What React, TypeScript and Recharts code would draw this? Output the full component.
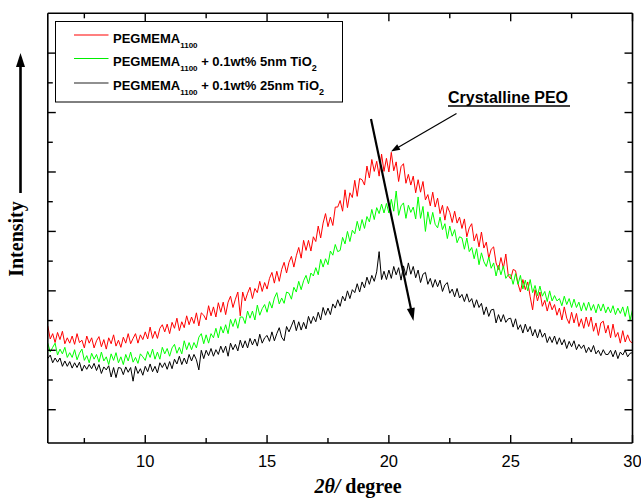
import { LineChart, Line, XAxis, YAxis } from "recharts";

// XRD scan, 2θ from 6 to 30 deg in 0.1 steps; intensity in arbitrary units
const red = [
  241, 219, 228, 213, 230, 218, 232, 211, 221, 212,
  224, 210, 228, 213, 217, 204, 224, 212, 221, 204,
  216, 223, 206, 218, 202, 221, 211, 226, 207, 217,
  205, 222, 212, 228, 211, 220, 228, 212, 226, 218,
  231, 219, 239, 220, 232, 220, 237, 243, 231, 244,
  228, 247, 237, 254, 233, 248, 238, 258, 243, 256,
  245, 263, 241, 263, 259, 251, 275, 258, 273, 256,
  280, 264, 281, 260, 281, 291, 272, 286, 298, 258,
  298, 283, 296, 306, 287, 304, 297, 316, 299, 314,
  303, 321, 331, 313, 333, 316, 336, 348, 330, 348,
  358, 340, 359, 373, 355, 385, 368, 385, 367, 391,
  383, 409, 389, 414, 430, 408, 424, 410, 441, 441,
  452, 434, 470, 440, 465, 457, 486, 459, 489, 487,
  478, 510, 490, 521, 501, 518, 493, 530, 501, 523,
  500, 533, 502, 517, 484, 509, 514, 481, 496, 478,
  493, 465, 487, 466, 484, 453, 462, 443, 466, 441,
  456, 430, 444, 419, 442, 432, 415, 434, 414, 424,
  405, 421, 391, 406, 413, 384, 396, 374, 399, 372,
  382, 355, 370, 374, 347, 336, 356, 338, 362, 326,
  320, 336, 334, 312, 298, 319, 302, 315, 290, 268,
  302, 283, 298, 274, 284, 266, 282, 268, 277, 259,
  271, 251, 273, 254, 245, 264, 246, 262, 240, 253,
  237, 256, 240, 256, 232, 246, 225, 246, 249, 229,
  242, 221, 244, 222, 230, 212, 233, 214, 226, 215,
  212,
];

const green = [
  212, 197, 205, 212, 192, 202, 194, 205, 188, 196,
  188, 201, 184, 195, 202, 183, 191, 179, 195, 185,
  193, 180, 197, 182, 189, 176, 194, 183, 196, 179,
  189, 176, 193, 182, 197, 180, 188, 178, 194, 189,
  183, 198, 188, 202, 185, 197, 185, 205, 194, 203,
  190, 204, 210, 195, 205, 194, 216, 201, 213, 201,
  213, 204, 222, 228, 211, 226, 212, 228, 221, 237,
  221, 240, 229, 243, 228, 252, 240, 253, 237, 256,
  256, 245, 266, 254, 266, 251, 276, 259, 270, 277,
  264, 282, 271, 288, 297, 278, 288, 279, 298, 296,
  286, 306, 298, 316, 302, 317, 326, 312, 330, 325,
  339, 327, 353, 340, 354, 344, 367, 360, 378, 366,
  368, 390, 379, 400, 383, 402, 396, 417, 401, 420,
  405, 425, 416, 437, 420, 440, 430, 446, 431, 447,
  431, 454, 434, 468, 427, 443, 448, 422, 444, 432,
  441, 421, 458, 422, 442, 400, 433, 412, 432, 412,
  406, 424, 403, 413, 388, 409, 392, 403, 381, 391,
  389, 370, 389, 366, 373, 354, 371, 344, 364, 349,
  341, 357, 338, 347, 325, 343, 327, 342, 321, 327,
  327, 311, 329, 311, 326, 303, 318, 300, 319, 297,
  309, 292, 308, 291, 299, 282, 300, 283, 292, 283,
  287, 275, 291, 277, 287, 272, 286, 272, 281, 266,
  280, 267, 281, 267, 277, 263, 278, 266, 278, 263,
  273, 263, 275, 260, 271, 262, 273, 257, 274, 251,
  268,
];

const black = [
  186, 192, 179, 187, 180, 187, 173, 182, 173, 181,
  170, 179, 171, 180, 165, 175, 168, 176, 169, 178,
  166, 176, 161, 172, 167, 174, 155, 171, 154, 171,
  170, 159, 172, 163, 171, 148, 173, 161, 169, 158,
  173, 164, 177, 164, 173, 162, 179, 171, 179, 168,
  181, 169, 185, 177, 190, 176, 187, 177, 193, 182,
  193, 184, 167, 200, 186, 200, 191, 203, 190, 201,
  193, 207, 196, 207, 190, 212, 201, 210, 199, 217,
  204, 216, 204, 220, 209, 219, 207, 227, 212, 221,
  225, 215, 231, 216, 228, 238, 222, 216, 240, 231,
  241, 251, 233, 248, 234, 247, 236, 257, 245, 257,
  248, 264, 251, 272, 259, 271, 260, 278, 271, 285,
  274, 291, 283, 300, 287, 302, 297, 312, 298, 315,
  305, 323, 311, 326, 316, 332, 366, 319, 333, 319,
  335, 321, 341, 327, 339, 318, 342, 326, 347, 328,
  341, 322, 335, 314, 328, 331, 311, 321, 306, 319,
  307, 318, 299, 310, 314, 296, 303, 290, 304, 288,
  294, 282, 295, 281, 287, 272, 285, 272, 279, 260,
  273, 257, 268, 269, 246, 260, 248, 260, 247, 253,
  254, 239, 253, 235, 243, 229, 244, 231, 240, 224,
  235, 221, 235, 222, 229, 213, 223, 213, 224, 210,
  221, 209, 218, 203, 215, 206, 216, 201, 210, 203,
  209, 196, 205, 197, 208, 194, 200, 191, 201, 193,
  193, 200, 189, 200, 186, 197, 192, 200, 189, 195,
  196,
];

const twoTheta = red.map((_, i) => Math.round((6 + i * 0.1) * 10) / 10);

const xTicks = [7.5, 10, 12.5, 15, 17.5, 20, 22.5, 25, 27.5, 30];
const xMajor = [10, 15, 20, 25, 30];
const yTicks = [100, 150, 200, 250, 300, 350, 400, 450, 500, 550, 600, 650, 700];
const yMajor = [100, 200, 300, 400, 500, 600, 700];

const data = twoTheta.map((x, i) => ({ x, red: red[i], green: green[i], black: black[i] }));

const SANS = "'Liberation Sans', Arial, Helvetica, sans-serif";
const SERIF = "'Liberation Serif', 'Times New Roman', serif";

const MAJ = 8;
const MIN = 5;

function BottomTick({ x, y, payload }: any) {
  const major = xMajor.includes(payload.value);
  return (
    <g>
      <line x1={x} x2={x} y1={y} y2={y - (major ? MAJ : MIN)} stroke="#000" strokeWidth={1.4} />
      {major && (
        <text x={x} y={y + 24} textAnchor="middle" fontSize={16.5} fontFamily={SANS} fill="#000">
          {payload.value}
        </text>
      )}
    </g>
  );
}

function TopTick({ x, y, payload }: any) {
  const major = xMajor.includes(payload.value);
  return <line x1={x} x2={x} y1={y} y2={y + (major ? MAJ : MIN)} stroke="#000" strokeWidth={1.4} />;
}

function LeftTick({ x, y, payload }: any) {
  const major = yMajor.includes(payload.value);
  return <line x1={x} x2={x + (major ? MAJ : MIN)} y1={y} y2={y} stroke="#000" strokeWidth={1.4} />;
}

function RightTick({ x, y, payload }: any) {
  const major = yMajor.includes(payload.value);
  return <line x1={x} x2={x - (major ? MAJ : MIN)} y1={y} y2={y} stroke="#000" strokeWidth={1.4} />;
}

function Arrow({ x1, y1, x2, y2, w, len, half }: any) {
  const dx = x2 - x1;
  const dy = y2 - y1;
  const d = Math.hypot(dx, dy);
  const ux = dx / d;
  const uy = dy / d;
  const bx = x2 - ux * len;
  const by = y2 - uy * len;
  const pts = `${x2},${y2} ${bx - uy * half},${by + ux * half} ${bx + uy * half},${by - ux * half}`;
  return (
    <g>
      <line x1={x1} y1={y1} x2={bx + ux * 2} y2={by + uy * 2} stroke="#000" strokeWidth={w} />
      <polygon points={pts} fill="#000" />
    </g>
  );
}

const legendRows = [
  { color: "#ff0000", ly: 35, ty: 42.5, rest: "" },
  { color: "#00ee00", ly: 58.5, ty: 66, rest: " + 0.1wt% 5nm TiO" },
  { color: "#222222", ly: 83, ty: 90, rest: " + 0.1wt% 25nm TiO" },
];

const axisLine = { stroke: "#000", strokeWidth: 1.6 };

export default function App() {
  return (
    <div style={{ position: "absolute", left: 0, top: 0, width: 641, height: 498, overflow: "hidden" }}>
      <LineChart width={641} height={498} data={data} margin={{ top: 12.3, right: 7.5, bottom: 0, left: 46.8 }}>
        <XAxis
          xAxisId="b"
          type="number"
          dataKey="x"
          domain={[6, 30]}
          allowDataOverflow
          ticks={xTicks}
          interval={0}
          tickSize={0}
          tickMargin={0}
          tickLine={false}
          tick={(p: any) => <BottomTick {...p} />}
          axisLine={axisLine}
          height={55}
        />
        <XAxis
          xAxisId="t"
          orientation="top"
          type="number"
          dataKey="x"
          domain={[6, 30]}
          allowDataOverflow
          ticks={xTicks}
          interval={0}
          tickSize={0}
          tickMargin={0}
          tickLine={false}
          tick={(p: any) => <TopTick {...p} />}
          axisLine={axisLine}
          height={1}
        />
        <YAxis
          yAxisId="l"
          type="number"
          domain={[44, 767]}
          allowDataOverflow
          ticks={yTicks}
          interval={0}
          tickSize={0}
          tickMargin={0}
          tickLine={false}
          tick={(p: any) => <LeftTick {...p} />}
          axisLine={axisLine}
          width={1}
        />
        <YAxis
          yAxisId="r"
          orientation="right"
          type="number"
          domain={[44, 767]}
          allowDataOverflow
          ticks={yTicks}
          interval={0}
          tickSize={0}
          tickMargin={0}
          tickLine={false}
          tick={(p: any) => <RightTick {...p} />}
          axisLine={axisLine}
          width={1}
        />
        <Line xAxisId="b" yAxisId="l" type="linear" dataKey="red" stroke="#ff0000" strokeWidth={1} dot={false} isAnimationActive={false} />
        <Line xAxisId="b" yAxisId="l" type="linear" dataKey="green" stroke="#00ff00" strokeWidth={1} dot={false} isAnimationActive={false} />
        <Line xAxisId="b" yAxisId="l" type="linear" dataKey="black" stroke="#000000" strokeWidth={1} dot={false} isAnimationActive={false} />
      </LineChart>

      <svg width={641} height={498} style={{ position: "absolute", left: 0, top: 0, pointerEvents: "none" }}>
        {/* legend */}
        <rect x={55.5} y={21.5} width={287} height={80.5} fill="#fff" stroke="#000" strokeWidth={1} />
        {legendRows.map((r, i) => (
          <g key={i}>
            <line x1={74} x2={108.5} y1={r.ly} y2={r.ly} stroke={r.color} strokeWidth={1.2} />
            <text x={113} y={r.ty} fontFamily={SANS} fontWeight="bold" fontSize={13} fill="#000">
              <tspan>PEGMEMA</tspan>
              <tspan fontSize={8} dy={5}>1100</tspan>
              {r.rest && <tspan dy={-5}>{r.rest}</tspan>}
              {r.rest && <tspan fontSize={9} dy={5}>2</tspan>}
            </text>
          </g>
        ))}

        {/* annotation */}
        <text x={448} y={103} fontFamily={SANS} fontWeight="bold" fontSize={16} fill="#000">
          Crystalline PEO
        </text>
        <line x1={448} x2={570} y1={106} y2={106} stroke="#000" strokeWidth={1.3} />
        <Arrow x1={456.5} y1={113.5} x2={391} y2={151.5} w={1.2} len={9} half={3.2} />
        <Arrow x1={371} y1={119} x2={413.5} y2={321} w={2.2} len={13} half={4} />

        {/* y label */}
        <Arrow x1={20.5} y1={193} x2={20.5} y2={53} w={2.6} len={14} half={4.5} />
        <text
          x={23}
          y={239}
          transform="rotate(-90 23 239)"
          textAnchor="middle"
          fontFamily={SERIF}
          fontWeight="bold"
          fontSize={20}
          fill="#000"
        >
          Intensity
        </text>

        {/* x label */}
        <text x={358} y={493} textAnchor="middle" fontFamily={SERIF} fontWeight="bold" fontSize={20} fill="#000">
          <tspan fontStyle="italic">2θ/</tspan>
          <tspan> degree</tspan>
        </text>
      </svg>
    </div>
  );
}
